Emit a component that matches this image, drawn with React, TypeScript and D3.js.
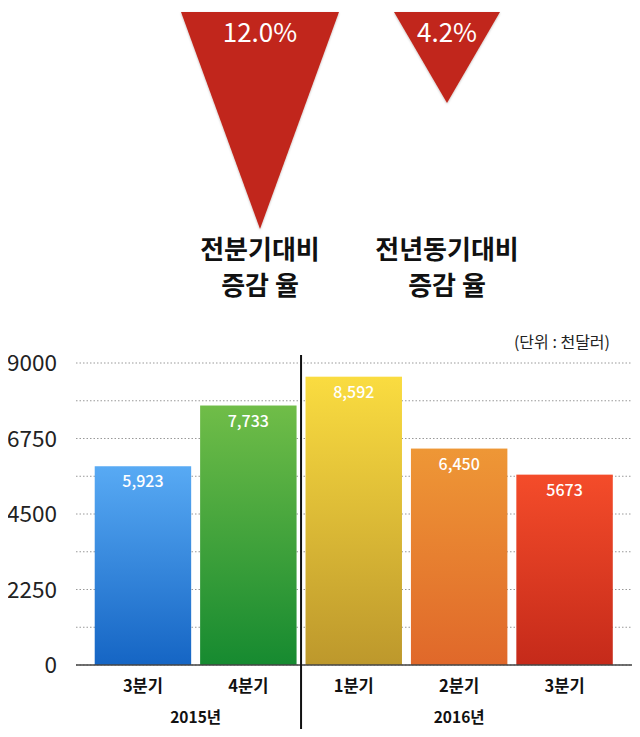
import React from "react";
import * as d3 from "d3";

// growth indicators (top triangles)
const rateLabels = ["전분기대비", "전년동기대비"];
const rateValues = [12.0, 4.2];

// quarterly bars
const quarters = ["3분기", "4분기", "1분기", "2분기", "3분기"];
const quarterKeys = ["2015-Q3", "2015-Q4", "2016-Q1", "2016-Q2", "2016-Q3"];
const sales = [5923, 7733, 8592, 6450, 5673];
const valueLabels = ["5,923", "7,733", "8,592", "6,450", "5673"];
const years = ["2015년", "2016년"];
const yTicks = [0, 2250, 4500, 6750, 9000];
const gradients = [
  ["#58aaf4", "#1565c4"],
  ["#70bd48", "#168a30"],
  ["#fadc40", "#bd982c"],
  ["#ee9736", "#e0682a"],
  ["#f44c2a", "#c52a1a"],
];

const FONT = "'Noto Sans CJK KR', 'Noto Sans', sans-serif";
const RED = "#c1271b";

const App: React.FC = () => {
  const width = 640;
  const height = 737;

  // triangles
  const triX = d3.scalePoint<string>().domain(rateLabels).range([260, 447]);
  const triH = d3.scaleLinear().domain([0, 12]).range([23, 217]);
  const triW = d3.scaleLinear().domain([0, 12]).range([78, 158]);
  const triTop = 12;

  // bar chart
  const plotLeft = 76;
  const plotRight = 632;
  const x = d3
    .scaleBand<string>()
    .domain(quarterKeys)
    .range([90.5, 617])
    .paddingInner(0.085)
    .paddingOuter(0.04);
  const y = d3.scaleLinear().domain([0, 9000]).range([665, 363]);
  const gridTicks = d3.range(0, 9001, 1125);

  const dividerX = (x(quarterKeys[1])! + x.bandwidth() + x(quarterKeys[2])!) / 2;
  const yearCenters = [
    (x(quarterKeys[0])! + x(quarterKeys[1])! + x.bandwidth()) / 2,
    x(quarterKeys[3])! + x.bandwidth() / 2,
  ];

  return (
    <svg width={width} height={height} style={{ display: "block", margin: "-8px" }} fontFamily={FONT}>
      <defs>
        {gradients.map(([top, bottom], i) => (
          <linearGradient key={i} id={`g${i}`} x1="0" y1="0" x2="0" y2="1">
            <stop offset="0%" stopColor={top} />
            <stop offset="100%" stopColor={bottom} />
          </linearGradient>
        ))}
        <filter id="shadow" x="-10%" y="-10%" width="120%" height="130%">
          <feDropShadow dx="0" dy="1" stdDeviation="1.2" floodColor="#000" floodOpacity="0.25" />
        </filter>
      </defs>
      <rect width={width} height={height} fill="#fff" />

      {/* triangles */}
      {rateLabels.map((lab, i) => {
        const cx = triX(lab)!;
        const w = triW(rateValues[i]);
        const h = triH(rateValues[i]);
        const path = d3.path();
        path.moveTo(cx - w / 2, triTop);
        path.lineTo(cx + w / 2, triTop);
        path.lineTo(cx, triTop + h);
        path.closePath();
        return (
          <g key={lab}>
            <path d={path.toString()} fill={RED} filter="url(#shadow)" />
            <text x={cx} y={triTop + 30} textAnchor="middle" fill="#fff" fontSize={26}>
              {rateValues[i].toFixed(1)}%
            </text>
            <text x={cx} y={259} textAnchor="middle" fill="#111" fontSize={26} fontWeight="bold">
              {lab}
            </text>
            <text x={cx} y={295} textAnchor="middle" fill="#111" fontSize={26} fontWeight="bold">
              증감 율
            </text>
          </g>
        );
      })}

      {/* unit */}
      <text x={610} y={348} textAnchor="end" fontSize={16} fill="#222">
        (단위 : 천달러)
      </text>

      {/* gridlines */}
      {gridTicks.map((t) => (
        <line
          key={t}
          x1={plotLeft}
          x2={plotRight}
          y1={y(t)}
          y2={y(t)}
          stroke="#999"
          strokeWidth={1}
          strokeDasharray="1.5 2"
        />
      ))}

      {/* y ticks */}
      {yTicks.map((t) => (
        <text key={t} x={57} y={y(t) + 8} textAnchor="end" fontSize={22.5} fill="#222">
          {t}
        </text>
      ))}

      {/* bars */}
      {quarterKeys.map((k, i) => (
        <g key={k}>
          <rect
            x={x(k)}
            y={y(sales[i])}
            width={x.bandwidth()}
            height={y(0) - y(sales[i])}
            fill={`url(#g${i})`}
          />
          <text
            x={x(k)! + x.bandwidth() / 2}
            y={y(sales[i]) + 21}
            textAnchor="middle"
            fill="#fff"
            fontSize={16}
            fontWeight={500}
          >
            {valueLabels[i]}
          </text>
          <text
            x={x(k)! + x.bandwidth() / 2}
            y={692}
            textAnchor="middle"
            fill="#111"
            fontSize={16.5}
            fontWeight="bold"
          >
            {quarters[i]}
          </text>
        </g>
      ))}

      {/* baseline */}
      <line x1={plotLeft} x2={plotRight} y1={y(0)} y2={y(0)} stroke="#444" strokeWidth={1.5} />

      {/* divider */}
      <line x1={dividerX} x2={dividerX} y1={355} y2={733} stroke="#111" strokeWidth={2} />

      {/* years */}
      {years.map((yr, i) => (
        <text key={yr} x={yearCenters[i]} y={723} textAnchor="middle" fill="#111" fontSize={15.5} fontWeight="bold">
          {yr}
        </text>
      ))}
    </svg>
  );
};

export default App;
